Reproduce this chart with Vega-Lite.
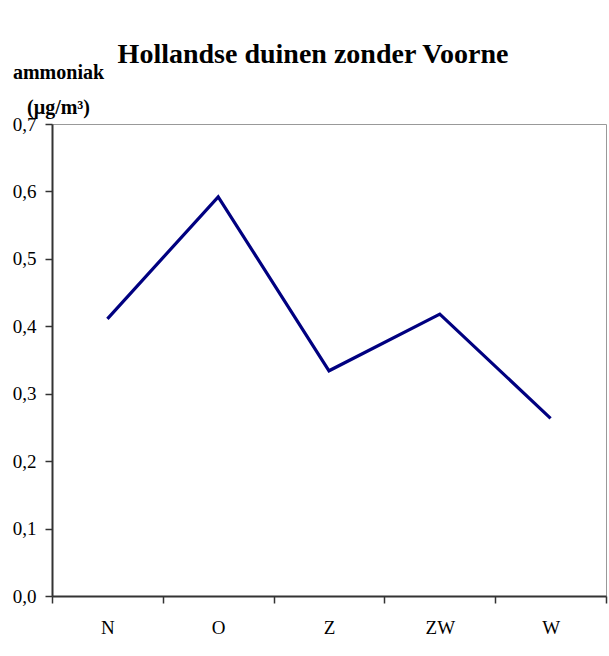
{
  "$schema": "https://vega.github.io/schema/vega-lite/v6.json",
  "width": 554,
  "height": 472,
  "autosize": {"type": "none"},
  "padding": {"left": 52, "top": 124, "right": 3, "bottom": 60},
  "background": "white",
  "title": {
    "text": "Hollandse duinen zonder Voorne",
    "font": "Liberation Serif",
    "fontSize": 28,
    "fontWeight": "bold",
    "color": "black",
    "anchor": "middle",
    "dx": -16,
    "baseline": "alphabetic",
    "offset": -29
  },
  "data": {
    "values": [
      {"richting": "N", "ammoniak": 0.411},
      {"richting": "O", "ammoniak": 0.592},
      {"richting": "Z", "ammoniak": 0.334},
      {"richting": "ZW", "ammoniak": 0.418},
      {"richting": "W", "ammoniak": 0.2635}
    ]
  },
  "mark": {"type": "line", "color": "#000080", "strokeWidth": 3.2},
  "encoding": {
    "x": {
      "field": "richting",
      "type": "nominal",
      "sort": null,
      "scale": {"type": "band", "paddingInner": 0, "paddingOuter": 0},
      "axis": {
        "title": null,
        "labelAngle": 0,
        "tickBand": "extent",
        "labelPadding": 15,
        "labelFontSize": 19
      }
    },
    "y": {
      "field": "ammoniak",
      "type": "quantitative",
      "scale": {"domain": [0, 0.7], "nice": false},
      "axis": {
        "values": [0, 0.1, 0.2, 0.3, 0.4, 0.5, 0.6, 0.7],
        "labelExpr": "replace(format(datum.value, '.1f'), '.', ',')",
        "grid": false,
        "labelFontSize": 19,
        "labelPadding": 9,
        "labelBaseline": "middle",
        "title": ["ammoniak", "(µg/m³)"],
        "titleFont": "Liberation Serif",
        "titleFontSize": 20,
        "titleFontWeight": "bold",
        "titleColor": "black",
        "titleAngle": 0,
        "titleAlign": "center",
        "titleBaseline": "alphabetic",
        "titleX": 6,
        "titleY": -46,
        "titleLineHeight": 35
      }
    }
  },
  "config": {
    "view": {"stroke": "#999999", "strokeWidth": 1},
    "axis": {
      "domainColor": "#333333",
      "domainWidth": 2,
      "tickColor": "#333333",
      "tickWidth": 1.5,
      "tickSize": 7,
      "labelFont": "Liberation Serif",
      "labelColor": "black"
    }
  }
}
